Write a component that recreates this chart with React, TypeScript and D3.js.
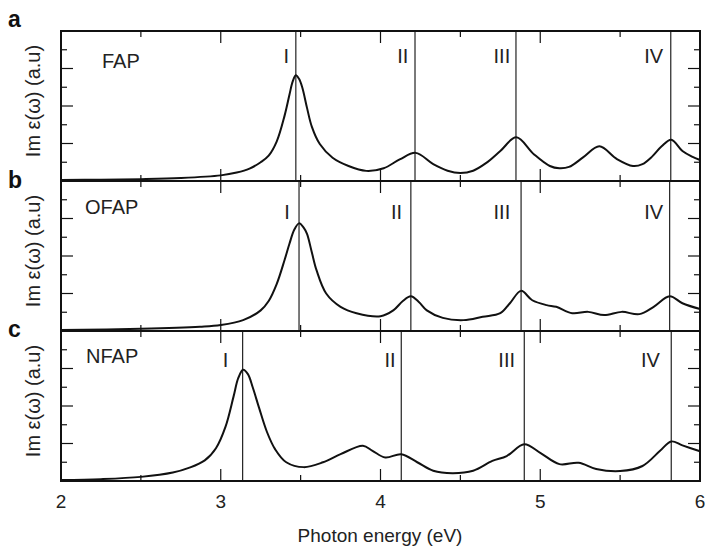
import * as d3 from "d3";

// photon energy (eV) and Im eps values per panel
const fapE = [2.0, 2.25, 2.5, 2.75, 3.0, 3.1, 3.18, 3.25, 3.3, 3.35, 3.4, 3.43, 3.45, 3.47, 3.49, 3.51, 3.54, 3.57, 3.62, 3.7, 3.8, 3.91, 4.02, 4.12, 4.22, 4.33, 4.42, 4.5, 4.58, 4.66, 4.75, 4.85, 4.96, 5.06, 5.12, 5.18, 5.27, 5.37, 5.48, 5.58, 5.64, 5.7, 5.76, 5.82, 5.89, 5.95, 6.0];
const fapV = [0.05, 0.07, 0.1, 0.16, 0.3, 0.45, 0.66, 1.0, 1.35, 2.1, 3.5, 4.6, 5.3, 5.64, 5.45, 5.0, 3.9, 2.9, 1.97, 1.24, 0.8, 0.54, 0.68, 1.15, 1.5, 0.9, 0.55, 0.43, 0.55, 0.95, 1.6, 2.33, 1.43, 0.8, 0.68, 0.75, 1.27, 1.85, 1.17, 0.8, 0.9, 1.3, 1.85, 2.2, 1.6, 1.3, 1.12];

const ofapE = [2.0, 2.5, 2.87, 3.0, 3.14, 3.25, 3.3, 3.35, 3.4, 3.43, 3.46, 3.49, 3.52, 3.54, 3.57, 3.6, 3.66, 3.75, 3.85, 4.0, 4.08, 4.14, 4.19, 4.24, 4.29, 4.39, 4.52, 4.64, 4.75, 4.81, 4.88, 4.95, 5.04, 5.1, 5.2, 5.3, 5.4, 5.51, 5.62, 5.71, 5.81, 5.89, 6.0];
const ofapV = [0.05, 0.12, 0.23, 0.32, 0.58, 1.1, 1.6, 2.5, 3.8, 4.65, 5.4, 5.74, 5.5, 5.18, 4.2, 3.23, 2.0, 1.29, 0.95, 0.79, 1.1, 1.6, 1.85, 1.55, 1.1, 0.7, 0.58, 0.76, 0.95, 1.48, 2.14, 1.64, 1.38, 1.29, 0.95, 1.02, 0.85, 1.02, 0.9, 1.29, 1.85, 1.48, 1.17];

const nfapE = [2.0, 2.25, 2.5, 2.7, 2.8, 2.9, 2.97, 3.03, 3.08, 3.11, 3.14, 3.17, 3.2, 3.24, 3.29, 3.34, 3.41, 3.52, 3.64, 3.75, 3.89, 3.95, 4.03, 4.13, 4.23, 4.33, 4.45, 4.58, 4.7, 4.79, 4.9, 5.0, 5.12, 5.24, 5.35, 5.5, 5.64, 5.75, 5.82, 5.89, 6.0];
const nfapV = [0.05, 0.1, 0.22, 0.45, 0.7, 1.1, 1.75, 2.9, 4.5, 5.5, 5.93, 5.7, 5.0, 3.9, 2.6, 1.7, 1.0, 0.74, 1.0, 1.43, 1.88, 1.61, 1.25, 1.43, 1.0, 0.55, 0.42, 0.55, 1.07, 1.33, 1.96, 1.5, 0.9, 0.97, 0.64, 0.53, 0.8, 1.61, 2.11, 1.9, 1.59];

const panelNames = ["FAP", "OFAP", "NFAP"];
const panelLetters = ["a", "b", "c"];
const romans = ["I", "II", "III", "IV"];
// vertical marker lines (eV)
const markers = [
  [3.47, 4.216, 4.848, 5.817],
  [3.49, 4.19, 4.88, 5.81],
  [3.137, 4.13, 4.9, 5.82],
];
// label centres (eV)
const romanPos = [
  [3.41, 4.14, 4.76, 5.71],
  [3.415, 4.1, 4.76, 5.71],
  [3.03, 4.06, 4.79, 5.69],
];
const xTicks = [2, 3, 4, 5, 6];

const W = 705;
const H = 550;
const left = 61;
const right = 700;
const tops = [31, 181, 331];
const ph = 150;
const font = "'Liberation Sans', Arial, Helvetica, sans-serif";

const series = [
  { e: fapE, v: fapV },
  { e: ofapE, v: ofapV },
  { e: nfapE, v: nfapV },
];
const romanBase = [32, 38, 36];
const nameX = [102, 85, 86];
const nameBase = [37, 33, 32];
const letterBase = [27, 188, 337];

export default function App() {
  const x = d3.scaleLinear().domain([2, 6]).range([left, right]);
  const majorX = d3.range(2, 6.01, 1);
  const minorX = d3.range(2.5, 6, 1);
  const yTicks = d3.range(1, 8, 1);

  return (
    <svg
      width={W}
      height={H}
      style={{ position: "absolute", left: 0, top: 0, background: "#fff" }}
      fontFamily={font}
    >
      {series.map((s, i) => {
        const top = tops[i];
        const y = d3.scaleLinear().domain([0, 8]).range([top + ph, top]);
        const pts = s.e.map((e, k) => [e, s.v[k]] as [number, number]);
        const path = d3
          .line<[number, number]>()
          .x((d) => x(d[0]))
          .y((d) => y(d[1]))
          .curve(d3.curveCatmullRom.alpha(0.5))(pts);
        return (
          <g key={i}>
            {markers[i].map((m, k) => (
              <line key={"m" + k} x1={x(m)} x2={x(m)} y1={top} y2={top + ph} stroke="#222" strokeWidth={1.2} />
            ))}
            {romans.map((r, k) => (
              <text key={"r" + k} x={x(romanPos[i][k])} y={top + romanBase[i]} textAnchor="middle" fontSize={20} fill="#222">
                {r}
              </text>
            ))}
            <path d={path || ""} fill="none" stroke="#111" strokeWidth={2} />
            {majorX.map((t) => (
              <g key={"M" + t}>
                <line x1={x(t)} x2={x(t)} y1={top} y2={top + 12} stroke="#111" strokeWidth={1.2} />
                <line x1={x(t)} x2={x(t)} y1={top + ph} y2={top + ph - 12} stroke="#111" strokeWidth={1.2} />
              </g>
            ))}
            {minorX.map((t) => (
              <g key={"m" + t}>
                <line x1={x(t)} x2={x(t)} y1={top} y2={top + 6} stroke="#111" strokeWidth={1.2} />
                <line x1={x(t)} x2={x(t)} y1={top + ph} y2={top + ph - 6} stroke="#111" strokeWidth={1.2} />
              </g>
            ))}
            {yTicks.map((t) => {
              const len = t % 2 === 0 ? 12 : 6;
              return (
                <g key={"y" + t}>
                  <line x1={left} x2={left + len} y1={y(t)} y2={y(t)} stroke="#111" strokeWidth={1.2} />
                  <line x1={right} x2={right - len} y1={y(t)} y2={y(t)} stroke="#111" strokeWidth={1.2} />
                </g>
              );
            })}
            <rect x={left} y={top} width={right - left} height={ph} fill="none" stroke="#111" strokeWidth={2} />
            <text x={nameX[i]} y={top + nameBase[i]} fontSize={20} fill="#222">
              {panelNames[i]}
            </text>
            <text
              transform={`translate(40,${top + ph / 2 - 5}) rotate(-90)`}
              textAnchor="middle"
              fontSize={20}
              fill="#222"
            >
              Im ε(ω) (a.u)
            </text>
            <text x={8} y={letterBase[i]} fontSize={23} fontWeight="bold" fill="#111">
              {panelLetters[i]}
            </text>
          </g>
        );
      })}
      {xTicks.map((t) => (
        <text key={t} x={x(t)} y={508} textAnchor="middle" fontSize={19} fill="#222">
          {t}
        </text>
      ))}
      <text x={380} y={542} textAnchor="middle" fontSize={19} fill="#222">
        Photon energy (eV)
      </text>
    </svg>
  );
}
